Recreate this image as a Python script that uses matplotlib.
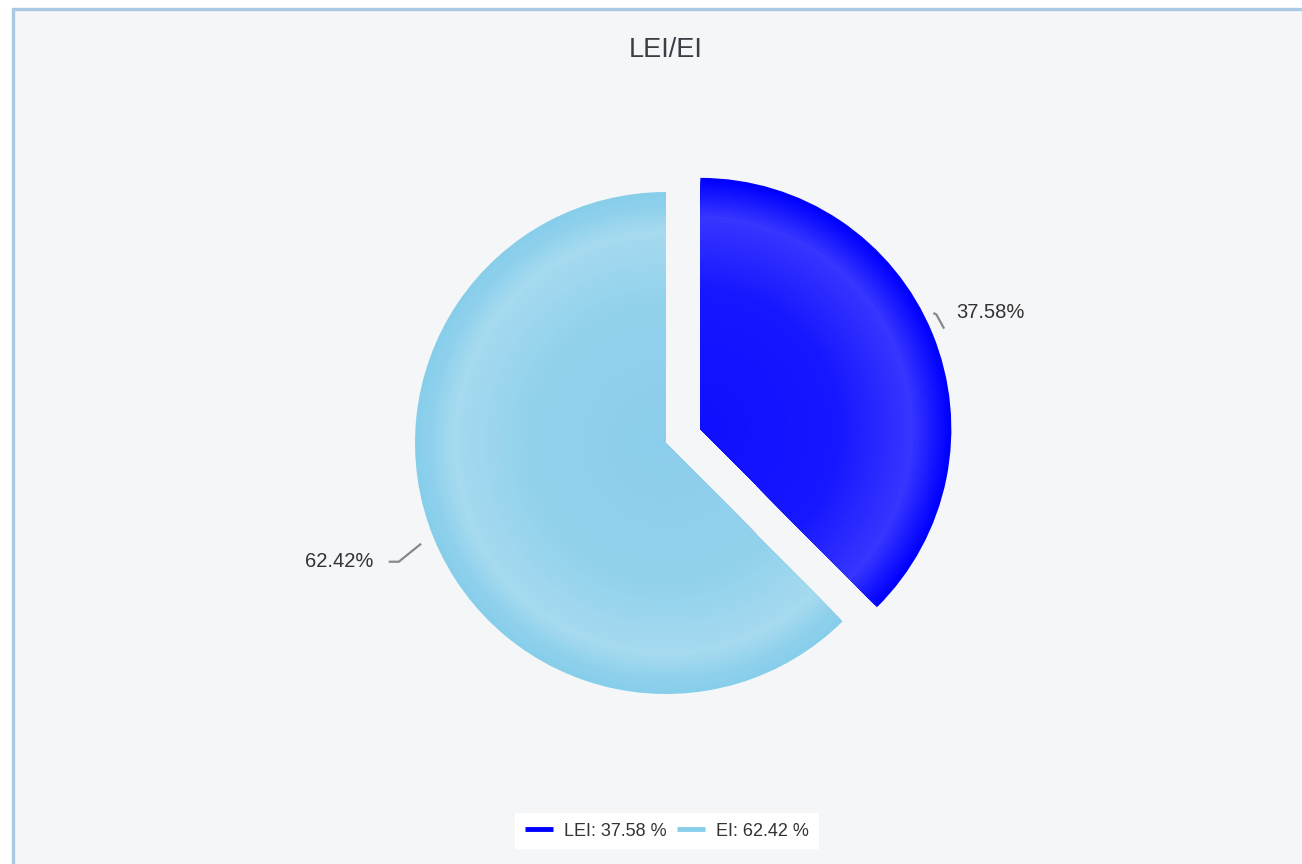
import numpy as np
import matplotlib
matplotlib.use('Agg')
import matplotlib.pyplot as plt
from matplotlib.patches import Rectangle
from matplotlib.lines import Line2D

# chart data
categories = ['LEI', 'EI']
shares = [37.58, 62.42]
base_colors = ['#0000ff', '#87ceeb']

# radial shading stops (fraction of radius, rgb) per slice
shade_stops = [
    [(0.0, (15, 15, 255)), (0.55, (22, 22, 255)), (0.85, (54, 54, 255)),
     (0.95, (18, 18, 255)), (1.0, (0, 0, 255))],
    [(0.0, (139, 206, 235)), (0.55, (145, 209, 236)), (0.85, (166, 218, 239)),
     (0.95, (142, 208, 236)), (1.0, (135, 206, 235))],
]
explode = [0.148, 0.0]

plt.rcParams['font.family'] = ['Liberation Sans', 'DejaVu Sans']
text_col = '#333333'

W, H = 1302, 864
fig = plt.figure(figsize=(W / 100, H / 100), dpi=100)
fig.patch.set_facecolor('white')

# chart container with light blue border
fig.patches.append(Rectangle((12.5 / W, -0.05), 1.2, (H - 8.5) / H + 0.05,
                             transform=fig.transFigure, facecolor='#f5f6f8',
                             edgecolor='#abc9e2', linewidth=2.4, zorder=-5))

ax = fig.add_axes([0, 0, 1, 1])
ax.set_zorder(1)
ax.set_facecolor('none')
ax.axis('off')


def shade(stops, r):
    xs = [s[0] for s in stops]
    rgb = [np.interp(r, xs, [s[1][i] for s in stops]) / 255 for i in range(3)]
    return tuple(rgb)


# layered wedges to fake the radial gradient
n_layers = 80
wedges = None
for k in range(n_layers):
    r = 1 - k / n_layers
    cols = [shade(shade_stops[i], r) for i in range(len(shares))]
    w, _ = ax.pie(shares, colors=cols, startangle=90, counterclock=False,
                  explode=explode, radius=r, wedgeprops={'linewidth': 0})
    if wedges is None:
        wedges = w

# data labels with short connectors
for w, val in zip(wedges, shares):
    a = np.deg2rad((w.theta1 + w.theta2) / 2)
    cx, cy = w.center
    u = lambda rr, aa: (cx + rr * np.cos(aa), cy + rr * np.sin(aa))
    if np.cos(a) >= 0:
        p0 = u(1.05, a)
        p1 = u(1.045, a + np.deg2rad(3.5))
        p2 = (p1[0] - 0.012, p1[1] + 0.006)
        ax.plot([p0[0], p1[0], p2[0]], [p0[1], p1[1], p2[1]], color='#888888',
                lw=1.6, solid_capstyle='butt')
        tx, ty = u(1.12, a + np.deg2rad(2))
        ax.text(tx, ty, f'{val:.2f}%', ha='left', va='center', fontsize=14.5,
                color=text_col)
    else:
        p0 = u(1.055, a)
        p1 = u(1.165, a + np.deg2rad(1.6))
        p2 = (p1[0] - 0.04, p1[1])
        ax.plot([p0[0], p1[0], p2[0]], [p0[1], p1[1], p2[1]], color='#888888',
                lw=1.6, solid_capstyle='butt')
        ax.text(p2[0] - 0.063, p2[1], f'{val:.2f}%', ha='right', va='center',
                fontsize=14.5, color=text_col)

# 1 unit = 251 px, pie centre at (666, 443) px from top-left
R = 251
ax.set_aspect('auto')
ax.set_xlim(-666 / R, (W - 666) / R)
ax.set_ylim(-(H - 443) / R, 443 / R)

fig.text(666 / W, 1 - 50 / H, '/'.join(categories), ha='center', va='center',
         fontsize=19.5, color='#3a3f47')

handles = [Line2D([], [], color=c, lw=3.5, solid_capstyle='butt') for c in base_colors]
labels = [f'{c}: {v:.2f} %' for c, v in zip(categories, shares)]
leg = fig.legend(handles, labels, loc='center', bbox_to_anchor=(667 / W, 33 / H),
                 ncol=2, frameon=True, fancybox=False, fontsize=13,
                 handlelength=1.55, handletextpad=0.6, columnspacing=0.6,
                 borderpad=0.55, labelcolor=text_col)
leg.get_frame().set_facecolor('white')
leg.get_frame().set_edgecolor('none')
leg.get_frame().set_alpha(1)

fig.savefig('out.png', dpi=100)
